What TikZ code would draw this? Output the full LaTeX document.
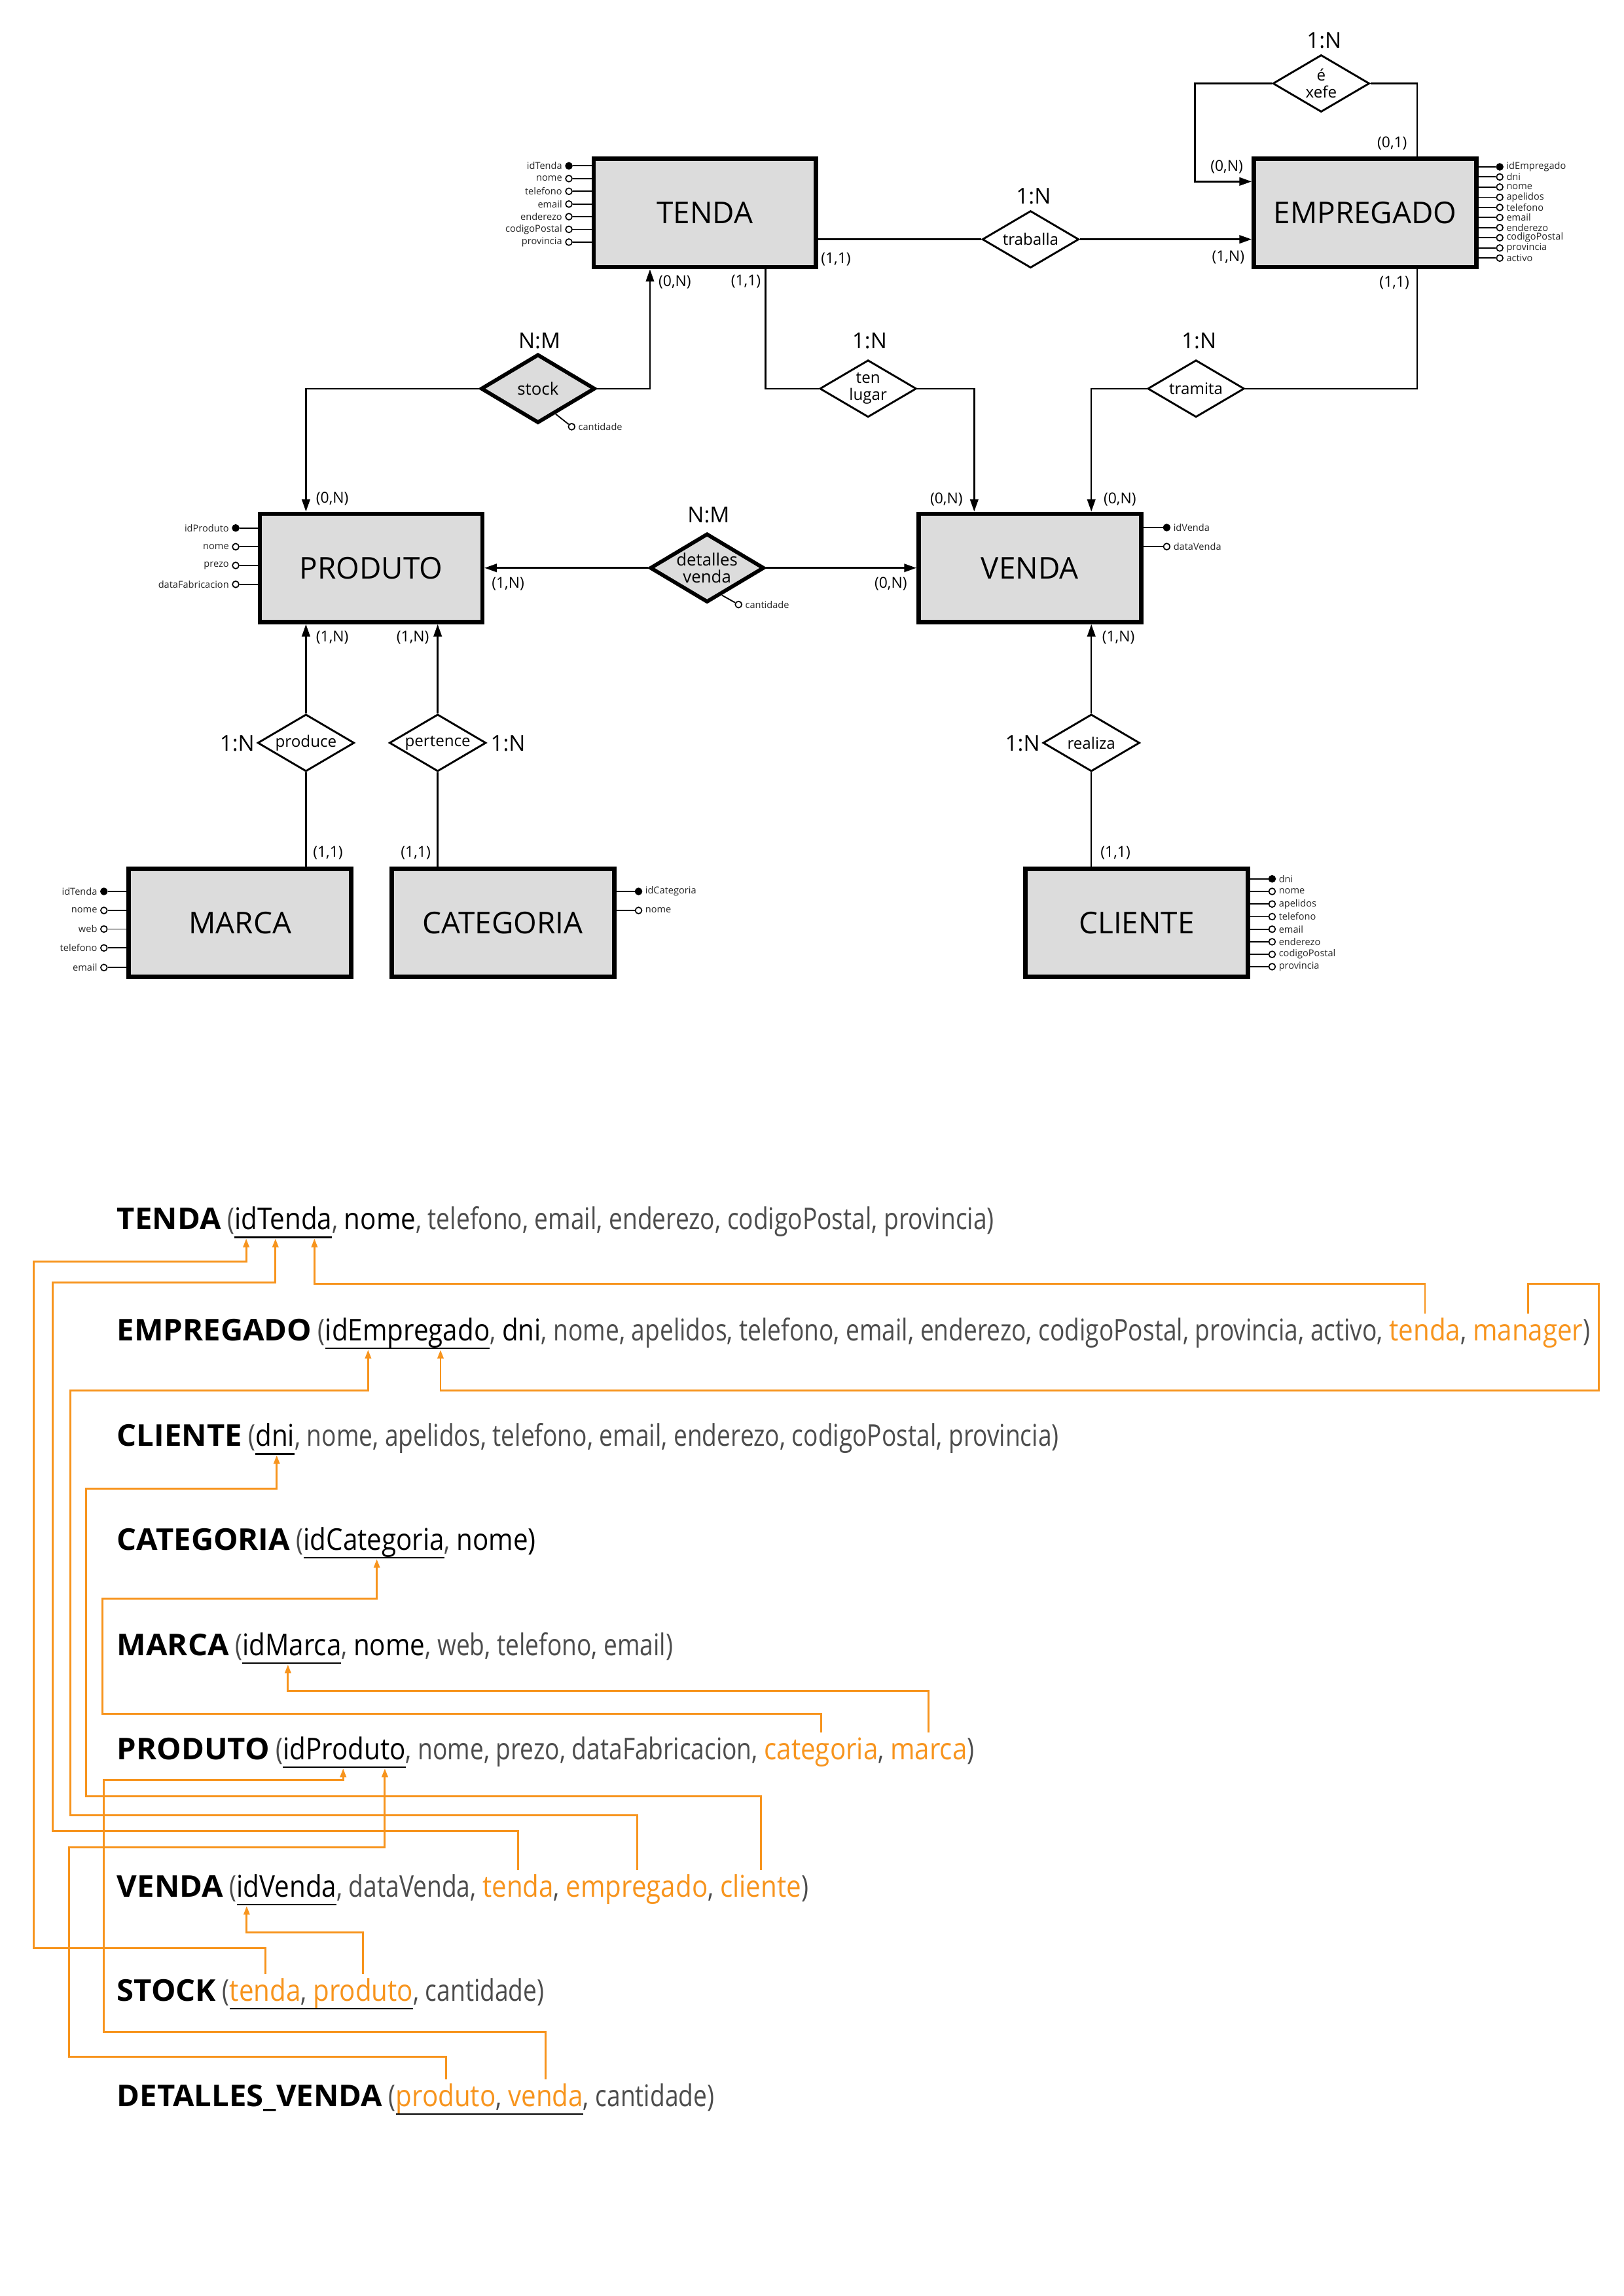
\documentclass[tikz,border=0pt]{standalone}
\usepackage{fontspec}
\setmainfont{Open Sans}
\newfontfamily\ltf[FakeStretch=0.81]{Open Sans}
\newfontfamily\rgf[FakeStretch=0.88]{Open Sans}
\newfontfamily\bdf[FakeStretch=1.03]{Open Sans}
\usetikzlibrary{shapes.geometric,arrows.meta,calc}
\definecolor{boxgray}{HTML}{DCDCDC}
\definecolor{fkor}{HTML}{F7941D}
\newcommand{\ux}{0.5368pt}
\newcommand{\csp}{,\ \mbox{}}
\begin{document}
\begin{tikzpicture}[x=0.5368pt,y=-0.5368pt,
  ent/.style={draw, line width=1.6pt, fill=boxgray, minimum width=152*\ux, minimum height=74*\ux, inner sep=0, font=\fontsize{11}{13}\selectfont},
  rel/.style={diamond, draw, line width=0.7pt, fill=white, minimum width=66*\ux, minimum height=39*\ux, inner sep=0},
  wrel/.style={diamond, draw, line width=1.4pt, fill=boxgray, minimum width=78*\ux, minimum height=47*\ux, inner sep=0},
  relt/.style={font=\fontsize{5.8}{6.3}\selectfont, align=center, inner sep=0},
  card/.style={font=\fontsize{5.5}{6}\selectfont, inner sep=0},
  ratio/.style={font=\fontsize{8}{9}\selectfont, inner sep=0},
  link/.style={line width=0.6pt},
  arr/.style={line width=0.6pt, -{Triangle[length=4.5pt,width=3pt]}},
  aline/.style={line width=0.45pt},
  at0/.style={circle, draw, line width=0.4pt, fill=white, minimum size=4.4*\ux, inner sep=0},
  atk/.style={at0, fill=black},
  atr/.style={at0, path picture={\fill (path picture bounding box.north) rectangle (path picture bounding box.south east);}},
  atl/.style={at0, path picture={\fill (path picture bounding box.south west) rectangle (path picture bounding box.north);}},
  atlab/.style={font=\fontsize{3.5}{4}\selectfont, inner sep=0.9pt, text=black!85},
  rt/.style={inner sep=0, outer sep=0, anchor=base west, font=\fontsize{11}{13}\rgf},
  hd/.style={rt, font=\fontsize{11}{13}\bdf\bfseries},
  gr/.style={rt, text=black!70, font=\fontsize{11}{13}\ltf},
  ky/.style={rt, text=black},
  fkt/.style={rt, text=fkor},
  ul/.style={line width=0.6pt},
  fk/.style={draw=fkor, line width=0.7pt, -{Triangle[length=3.2pt,width=2.2pt]}},
]
\useasboundingbox (0,0) rectangle (1109,1568.6);

% ---------------- entities
\node[ent] (tenda) at (481.5,145.5) {TENDA};
\node[ent] (emp) at (932.5,145.5) {EMPREGADO};
\node[ent] (prod) at (253.5,388) {PRODUTO};
\node[ent] (venda) at (703.5,388) {VENDA};
\node[ent] (marca) at (164,630.5) {MARCA};
\node[ent] (cat) at (343.5,630.5) {CATEGORIA};
\node[ent] (cli) at (776.5,630.5) {CLIENTE};

% ---------------- relationships
\node[rel] (xefe) at (902.5,57) {};
\node[relt] (xefe-t) at (xefe) {é\\xefe};
\node[rel] (trab) at (704,163.5) {};
\node[relt] (trab-t) at (trab) {traballa};
\node[wrel] (stock) at (367.5,265.5) {};
\node[relt,font=\fontsize{6.2}{6.6}\selectfont] (stock-t) at (stock) {stock};
\node[rel] (tl) at (593,265.5) {};
\node[relt] (tl-t) at (tl) {ten\\lugar};
\node[rel] (tram) at (817,265.5) {};
\node[relt] (tram-t) at (tram) {tramita};
\node[wrel] (det) at (483,388) {};
\node[relt,font=\fontsize{6.2}{6.4}\selectfont] (det-t) at (det) {detalles\\venda};
\node[rel] (produce) at (209,507.5) {};
\node[relt] (produce-t) at (produce) {produce};
\node[rel] (pert) at (299,507.5) {};
\node[relt] (pert-t) at (pert) {pertence};
\node[rel] (realiza) at (745.5,507.5) {};
\node[relt] (realiza-t) at (realiza) {realiza};

% ---------------- connectors
\draw[arr] (xefe.west) -- ++(-52.5,0) |- ([yshift=21.5*\ux]emp.west);
\draw[link] (xefe.east) -| ([xshift=35.5*\ux]emp.north);
\draw[link] (tenda.east |- trab.west) -- (trab.west);
\draw[arr] (trab.east) -- (emp.west |- trab.east);
\draw[arr] (stock.east) -| ([xshift=-37.5*\ux]tenda.south);
\draw[arr] (stock.west) -| ([xshift=-44.5*\ux]prod.north);
\draw[link] (tl.west) -| ([xshift=41.5*\ux]tenda.south);
\draw[arr] (tl.east) -| ([xshift=-38*\ux]venda.north);
\draw[link] (tram.east) -| ([xshift=35.5*\ux]emp.south);
\draw[arr] (tram.west) -| ([xshift=42*\ux]venda.north);
\draw[arr] (det.west) -- (prod.east |- det.west);
\draw[arr] (det.east) -- (venda.west |- det.east);
\draw[arr] (produce.north) -- (produce.north |- prod.south);
\draw[link] (produce.south) -- (produce.south |- marca.north);
\draw[arr] (pert.north) -- (pert.north |- prod.south);
\draw[link] (pert.south) -- (pert.south |- cat.north);
\draw[arr] (realiza.north) -- (realiza.north |- venda.south);
\draw[link] (realiza.south) -- (realiza.south |- cli.north);

% relationship attributes
\node[at0] (stq) at (390.5,291.5) {};
\draw[aline] ($(stock.east)!0.7!(stock.south)$) -- (stq);
\node[atlab,anchor=west] (stq-l) at (stq.east) {cantidade};
\node[at0] (detq) at (504.5,413) {};
\draw[aline] ($(det.east)!0.75!(det.south)$) -- (detq);
\node[atlab,anchor=west] (detq-l) at (detq.east) {cantidade};

% ---------------- ratios
\node[ratio] (r1) at (904.5,27.5) {1:N};
\node[ratio] (r2) at (706,134) {1:N};
\node[ratio] (r3) at (368.5,233) {N:M};
\node[ratio] (r4) at (594,233) {1:N};
\node[ratio] (r5) at (819,233) {1:N};
\node[ratio] (r6) at (484,352) {N:M};
\node[ratio] (r7) at (162,508) {1:N};
\node[ratio] (r8) at (347,508) {1:N};
\node[ratio] (r9) at (698.5,508) {1:N};

% ---------------- cardinalities
\node[card] (c1) at (838,114) {(0,N)};
\node[card] (c2) at (951,98) {(0,1)};
\node[card] (c3) at (571,177) {(1,1)};
\node[card] (c4) at (839,176) {(1,N)};
\node[card] (c5) at (461,192.5) {(0,N)};
\node[card] (c6) at (509.5,192.5) {(1,1)};
\node[card] (c7) at (952.5,193) {(1,1)};
\node[card] (c8) at (227,340.5) {(0,N)};
\node[card] (c9) at (646.5,341) {(0,N)};
\node[card] (c10) at (765,341) {(0,N)};
\node[card] (c11) at (347,399) {(1,N)};
\node[card] (c12) at (608.5,399) {(0,N)};
\node[card] (c13) at (227,435.5) {(1,N)};
\node[card] (c14) at (282,435.5) {(1,N)};
\node[card] (c15) at (764,435.5) {(1,N)};
\node[card] (c16) at (224,582.5) {(1,1)};
\node[card] (c17) at (284,582.5) {(1,1)};
\node[card] (c18) at (762,582.5) {(1,1)};

% ---------------- entity attributes
\foreach \yy/\nm/\st [count=\i] in {113.3/idTenda/atk,122/nome/atr,130.7/telefono/at0,139.4/email/at0,148/enderezo/at0,156.7/codigoPostal/at0,165.4/provincia/at0}{
  \node[\st] (tA\i) at (388.6,\yy) {};
  \draw[aline] (tA\i.east) -- (tA\i.east -| tenda.west);
  \node[atlab,anchor=east] (tL\i) at (tA\i.west) {\nm};
}
\foreach \yy/\nm/\st [count=\i] in {114/idEmpregado/atk,120.9/dni/atl,127.8/nome/at0,134.8/apelidos/at0,141.7/telefono/at0,148.6/email/at0,155.5/enderezo/at0,162.4/codigoPostal/at0,169.4/provincia/at0,176.3/activo/at0}{
  \node[\st] (eA\i) at (1024.5,\yy) {};
  \draw[aline] (eA\i.west) -- (eA\i.west -| emp.east);
  \node[atlab,anchor=west] (eL\i) at (eA\i.east) {\nm};
}
\foreach \yy/\nm/\st [count=\i] in {360.7/idProduto/atk,373.5/nome/at0,386.3/prezo/at0,399.2/dataFabricacion/at0}{
  \node[\st] (pA\i) at (161,\yy) {};
  \draw[aline] (pA\i.east) -- (pA\i.east -| prod.west);
  \node[atlab,anchor=east] (pL\i) at (pA\i.west) {\nm};
}
\foreach \yy/\nm/\st [count=\i] in {360.4/idVenda/atk,373.4/dataVenda/at0}{
  \node[\st] (vA\i) at (797,\yy) {};
  \draw[aline] (vA\i.west) -- (vA\i.west -| venda.east);
  \node[atlab,anchor=west] (vL\i) at (vA\i.east) {\nm};
}
\foreach \yy/\nm/\st [count=\i] in {609/idTenda/atk,622/nome/atr,634.7/web/at0,647.6/telefono/at0,661/email/at0}{
  \node[\st] (mA\i) at (71,\yy) {};
  \draw[aline] (mA\i.east) -- (mA\i.east -| marca.west);
  \node[atlab,anchor=east] (mL\i) at (mA\i.west) {\nm};
}
\foreach \yy/\nm/\st [count=\i] in {609/idCategoria/atk,622/nome/atl}{
  \node[\st] (kA\i) at (436.2,\yy) {};
  \draw[aline] (kA\i.west) -- (kA\i.west -| cat.east);
  \node[atlab,anchor=west] (kL\i) at (kA\i.east) {\nm};
}
\foreach \yy/\nm/\st [count=\i] in {600.4/dni/atk,609/nome/at0,617.6/apelidos/at0,626.2/telefono/at0,634.8/email/at0,643.4/enderezo/at0,652/codigoPostal/at0,660.4/provincia/at0}{
  \node[\st] (cA\i) at (869,\yy) {};
  \draw[aline] (cA\i.west) -- (cA\i.west -| cli.east);
  \node[atlab,anchor=west] (cL\i) at (cA\i.east) {\nm};
}

% ================= relational schema
% TENDA
\node[hd] (RT) at (80,840) {TENDA};
\node[gr] (RT1) at (RT.base east) {\ (};
\node[ky] (kT) at (RT1.base east) {idTenda};
\node[gr] (RT2) at (kT.base east) {\csp};
\node[ky] (RT3) at (RT2.base east) {nome};
\node[gr] (RT4) at (RT3.base east) {, telefono, email, enderezo, codigoPostal, provincia)};
% EMPREGADO
\node[hd] (RE) at (80,916) {EMPREGADO};
\node[gr] (RE1) at (RE.base east) {\ (};
\node[ky] (kE) at (RE1.base east) {idEmpregado};
\node[gr] (RE2) at (kE.base east) {\csp};
\node[ky] (RE3) at (RE2.base east) {dni};
\node[gr] (RE4) at (RE3.base east) {, nome, apelidos, telefono, email, enderezo, codigoPostal, provincia, activo\csp};
\node[fkt] (fEt) at (RE4.base east) {tenda};
\node[gr] (RE5) at (fEt.base east) {\csp};
\node[fkt] (fEm) at (RE5.base east) {manager};
\node[gr] (RE6) at (fEm.base east) {)};
% CLIENTE
\node[hd] (RC) at (80,988) {CLIENTE};
\node[gr] (RC1) at (RC.base east) {\ (};
\node[ky] (kC) at (RC1.base east) {dni};
\node[gr] (RC2) at (kC.base east) {, nome, apelidos, telefono, email, enderezo, codigoPostal, provincia)};
% CATEGORIA
\node[hd] (RK) at (80,1059) {CATEGORIA};
\node[gr] (RK1) at (RK.base east) {\ (};
\node[ky] (kK) at (RK1.base east) {idCategoria};
\node[gr] (RK2) at (kK.base east) {\csp};
\node[ky] (RK3) at (RK2.base east) {nome)};
% MARCA
\node[hd] (RM) at (80,1131) {MARCA};
\node[gr] (RM1) at (RM.base east) {\ (};
\node[ky] (kM) at (RM1.base east) {idMarca};
\node[gr] (RM2) at (kM.base east) {\csp};
\node[ky] (RM3) at (RM2.base east) {nome};
\node[gr] (RM4) at (RM3.base east) {, web, telefono, email)};
% PRODUTO
\node[hd] (RP) at (80,1202) {PRODUTO};
\node[gr] (RP1) at (RP.base east) {\ (};
\node[ky] (kP) at (RP1.base east) {idProduto};
\node[gr] (RP2) at (kP.base east) {, nome, prezo, dataFabricacion\csp};
\node[fkt] (fPc) at (RP2.base east) {categoria};
\node[gr] (RP3) at (fPc.base east) {\csp};
\node[fkt] (fPm) at (RP3.base east) {marca};
\node[gr] (RP4) at (fPm.base east) {)};
% VENDA
\node[hd] (RV) at (80,1296) {VENDA};
\node[gr] (RV1) at (RV.base east) {\ (};
\node[ky] (kV) at (RV1.base east) {idVenda};
\node[gr] (RV2) at (kV.base east) {, dataVenda\csp};
\node[fkt] (fVt) at (RV2.base east) {tenda};
\node[gr] (RV3) at (fVt.base east) {\csp};
\node[fkt] (fVe) at (RV3.base east) {empregado};
\node[gr] (RV4) at (fVe.base east) {\csp};
\node[fkt] (fVc) at (RV4.base east) {cliente};
\node[gr] (RV5) at (fVc.base east) {)};
% STOCK
\node[hd] (RS) at (80,1367) {STOCK};
\node[gr] (RS1) at (RS.base east) {\ (};
\node[fkt] (fSt) at (RS1.base east) {tenda};
\node[gr] (RS2) at (fSt.base east) {\csp};
\node[fkt] (fSp) at (RS2.base east) {produto};
\node[gr] (RS3) at (fSp.base east) {, cantidade)};
% DETALLES_VENDA
\node[hd] (RD) at (80,1439) {DETALLES\_VENDA};
\node[gr] (RD1) at (RD.base east) {\ (};
\node[fkt] (fDp) at (RD1.base east) {produto};
\node[gr] (RD2) at (fDp.base east) {\csp};
\node[fkt] (fDv) at (RD2.base east) {venda};
\node[gr] (RD3) at (fDv.base east) {, cantidade)};

% underlines
\foreach \a/\b in {kT/kT,kE/kE,kC/kC,kK/kK,kM/kM,kP/kP,kV/kV,fSt/fSp,fDp/fDv}{
  \draw[ul] ([yshift=-2.8pt]\a.base west) -- ([yshift=-2.8pt]\b.base east);
}

% arrow targets
\coordinate (aT1) at ($(kT.base west)!0.12!(kT.base east)+(0,-3.3pt)$);
\coordinate (aT2) at ($(kT.base west)!0.42!(kT.base east)+(0,-3.3pt)$);
\coordinate (aT3) at ($(kT.base west)!0.82!(kT.base east)+(0,-3.3pt)$);
\coordinate (aE1) at ($(kE.base west)!0.26!(kE.base east)+(0,-3.3pt)$);
\coordinate (aE2) at ($(kE.base west)!0.70!(kE.base east)+(0,-3.3pt)$);
\coordinate (aC1) at ($(kC.base west)!0.54!(kC.base east)+(0,-3.3pt)$);
\coordinate (aK1) at ($(kK.base west)!0.52!(kK.base east)+(0,-3.3pt)$);
\coordinate (aM1) at ($(kM.base west)!0.46!(kM.base east)+(0,-3.3pt)$);
\coordinate (aP1) at ($(kP.base west)!0.49!(kP.base east)+(0,-3.3pt)$);
\coordinate (aP2) at ($(kP.base west)!0.83!(kP.base east)+(0,-3.3pt)$);
\coordinate (aV1) at ($(kV.base west)!0.10!(kV.base east)+(0,-3.3pt)$);

% foreign key links
\draw[fk] ([yshift=10pt]fEt.base) -- (fEt.base |- 0,877) -| (aT3);
\draw[fk] ([yshift=10pt]fEm.base) -- (fEm.base |- 0,877) -- (1092,877) -- (1092,950) -| (aE2);
\draw[fk] ([yshift=10pt]fVt.base) -- (fVt.base |- 0,1251) -- (36,1251) -- (36,876) -| (aT2);
\draw[fk] ([yshift=10pt]fSt.base) -- (fSt.base |- 0,1331) -- (23,1331) -- (23,862) -| (aT1);
\draw[fk] ([yshift=10pt]fVe.base) -- (fVe.base |- 0,1240) -- (48,1240) -- (48,950) -| (aE1);
\draw[fk] ([yshift=10pt]fVc.base) -- (fVc.base |- 0,1227) -- (59,1227) -- (59,1017) -| (aC1);
\draw[fk] ([yshift=10pt]fPc.base) -- (fPc.base |- 0,1171) -- (70,1171) -- (70,1092) -| (aK1);
\draw[fk] ([yshift=10pt]fPm.base) -- (fPm.base |- 0,1155) -| (aM1);
\draw[fk] ([yshift=10pt]fSp.base) -- (fSp.base |- 0,1320) -| (aV1);
\draw[fk] ([yshift=10pt]fDv.base) -- (fDv.base |- 0,1388) -- (71,1388) -- (71,1216) -| (aP1);
\draw[fk] ([yshift=10pt]fDp.base) -- (fDp.base |- 0,1405) -- (47,1405) -- (47,1262) -| (aP2);
\end{tikzpicture}
\end{document}
